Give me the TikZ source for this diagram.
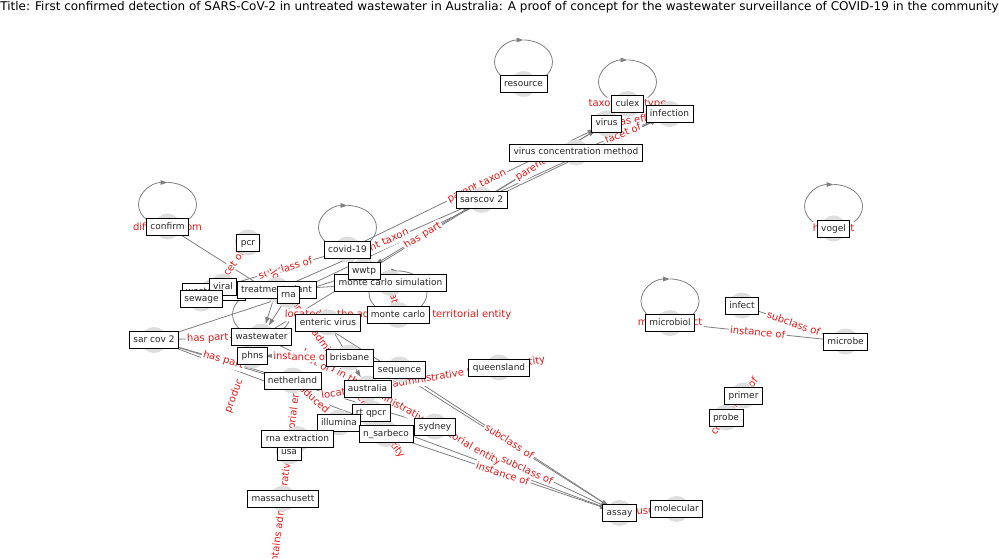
\documentclass[tikz,border=0pt]{standalone}
\usepackage{fontspec}
\setmainfont{DejaVu Sans}
\usetikzlibrary{arrows.meta,calc}
\definecolor{nodegray}{RGB}{222,222,222}
\definecolor{linkgray}{RGB}{128,128,128}
\definecolor{labelred}{RGB}{225,25,25}
\pgfdeclarelayer{edgelabels}
\pgfdeclarelayer{dots}
\pgfdeclarelayer{boxes}
\pgfsetlayers{main,edgelabels,dots,boxes}
\tikzset{
  vdot/.style={circle, fill=nodegray, minimum size=26pt, inner sep=0pt},
  namebox/.style={draw=black, fill=white, line width=0.8pt, text=black!85,
    font=\fontsize{9}{10}\selectfont, inner xsep=4pt, inner ysep=4pt,
    text height=7pt, text depth=2pt},
  link/.style={draw=linkgray, line width=0.8pt, -{Triangle[length=7pt,width=4.5pt]}},
  loopline/.style={draw=linkgray, line width=0.8pt},
  rellabel/.style={text=labelred, font=\fontsize{10}{11}\selectfont, fill=white,
    inner sep=1.5pt, rounded corners=2pt},
}
% elliptical self-loop above a node, arrow tip at the top
\newcommand\selfloop[1]{%
  \draw[loopline,-{Triangle[length=7pt,width=4.5pt]}] ($(#1)+(0,0)$)
    .. controls ($(#1)+(-16,0)$) and ($(#1)+(-29,-10)$) .. ($(#1)+(-29,-22)$)
    .. controls ($(#1)+(-29,-34)$) and ($(#1)+(-16,-44)$) .. ($(#1)+(0,-44)$);
  \draw[loopline] ($(#1)+(0,-44)$)
    .. controls ($(#1)+(16,-44)$) and ($(#1)+(29,-34)$) .. ($(#1)+(29,-22)$)
    .. controls ($(#1)+(29,-10)$) and ($(#1)+(16,0)$) .. ($(#1)+(0,0)$);}
\begin{document}
\begin{tikzpicture}[x=1pt,y=-1pt]
\useasboundingbox (0,0) rectangle (999,559);
\fill[white] (0,0) rectangle (999,559);

% node positions and gray node dots
\begin{pgfonlayer}{dots}
\foreach \n/\x/\y in {resource/523.5/84, culex/627.5/104, infection/669.5/114,
  virus/606.5/123.5, vcm/576/152.5, sarscov/481.5/200, confirm/167.5/226.5,
  pcr/248/242.5, covid/347.5/249.5, wwtp/364/271, mcs/390.5/283,
  wwater/213.5/291.5, viral/223/286.5, tplant/276.5/290, sewage/201.5/298.5,
  rna/288.5/295, enteric/328/322.5, mc/398/315, sarcov/154/340,
  wastewater/261.5/336.5, phns/252.5/355.5, brisbane/349.5/357.5,
  sequence/399.5/369.5, queensland/499/367.5, netherland/292.5/380.5,
  australia/367.5/388.5, rtqpcr/371/413, illumina/339/422.5, sydney/435/426.5,
  nsarbeco/386/434, rnaext/297.5/439, usa/289/451.5, mass/283/498.5,
  assay/619.5/513, molecular/676.5/509, vogel/833.5/228.5, infect/742/305.5,
  microbiol/670/323, microbe/845.5/341.5, primer/743.5/395.5, probe/726/417.5}
  {\node[vdot] (c-\n) at (\x,\y) {};}
\end{pgfonlayer}

% connectors
\foreach \s/\t in {covid/virus, tplant/sarscov, sarscov/wwtp, sarscov/virus,
  virus/infection, vcm/infection, sarscov/infection, rna/infection,
  wastewater/virus, sarcov/wwtp, viral/covid, wwater/pcr,
  confirm/assay, sarcov/wastewater, sarcov/netherland, sarcov/sydney,
  sarcov/assay, brisbane/phns, sequence/assay, nsarbeco/assay, sydney/assay,
  australia/queensland, australia/sydney, mass/usa, usa/netherland,
  netherland/illumina, mcs/mc, microbiol/microbe, infect/microbe,
  primer/probe, assay/molecular, rna/wastewater, tplant/wastewater,
  wastewater/australia, enteric/australia, tplant/mcs, rna/nsarbeco}
  {\draw[link] (c-\s) -- (c-\t);}

% self-loops
\foreach \n in {resource, culex, covid, confirm, vogel, microbiol, mc, wastewater}
  {\selfloop{c-\n}}

% relation labels
\begin{pgfonlayer}{edgelabels}
\foreach \s/\t/\txt in {covid/virus/parent taxon, tplant/sarscov/parent taxon,
  sarscov/wwtp/has part, sarscov/virus/parent taxon, virus/infection/has effect,
  vcm/infection/facet of, viral/covid/subclass of,
  wwater/pcr/facet of, sarcov/wastewater/has part,
  rna/nsarbeco/located in the administrative territorial entity,
  australia/sydney/located in the administrative territorial entity,
  wastewater/australia/part of, sarcov/netherland/has part,
  sarcov/sydney/has part, brisbane/phns/instance of, sequence/assay/subclass of,
  nsarbeco/assay/instance of, sydney/assay/subclass of,
  australia/queensland/located in the administrative territorial entity,
  mass/usa/contains administrative territorial entity,
  netherland/illumina/produced by, mcs/mc/at, microbiol/microbe/instance of,
  infect/microbe/subclass of, primer/probe/component of, assay/molecular/uses}
  {\path (c-\s) -- (c-\t) node[rellabel, sloped, midway] {\txt};}
\node[rellabel] (l-confirm) at (c-confirm) {different from};
\node[rellabel] (l-culex) at (c-culex) {taxonomic type};
\node[rellabel] (l-vogel) at (c-vogel) {has part};
\node[rellabel] (l-microbiol) at (c-microbiol) {main subject};
\node[rellabel] (l-mc) at (c-mc) {located in the administrative territorial entity};
\node[rellabel, rotate=69] (l-produc) at (234,396) {produc};
\end{pgfonlayer}

% name boxes
\begin{pgfonlayer}{boxes}
\foreach \n/\txt in {resource/resource, culex/culex, infection/infection,
  virus/virus, vcm/virus concentration method, sarscov/sarscov 2,
  confirm/confirm, pcr/pcr, covid/covid-19, mcs/monte carlo simulation,
  wwtp/wwtp, wwater/waste water, tplant/treatment plant, viral/viral,
  sewage/sewage, rna/rna, enteric/enteric virus, mc/monte carlo,
  sarcov/sar cov 2, wastewater/wastewater, phns/phns, brisbane/brisbane,
  sequence/sequence, queensland/queensland, netherland/netherland,
  australia/australia, rtqpcr/rt qpcr, illumina/illumina, sydney/sydney,
  nsarbeco/n\_sarbeco, usa/usa, rnaext/rna extraction, mass/massachusett,
  assay/assay, molecular/molecular, vogel/vogel, infect/infect,
  microbiol/microbiol, microbe/microbe, primer/primer, probe/probe}
  {\node[namebox] (\n) at (c-\n) {\txt};}
\node[font=\fontsize{12}{14}\selectfont, inner sep=0pt] (title) at (499.5,7.5)
  {Title: First confirmed detection of SARS-CoV-2 in untreated wastewater in Australia: A proof of concept for the wastewater surveillance of COVID-19 in the community};
\end{pgfonlayer}
\end{tikzpicture}
\end{document}
